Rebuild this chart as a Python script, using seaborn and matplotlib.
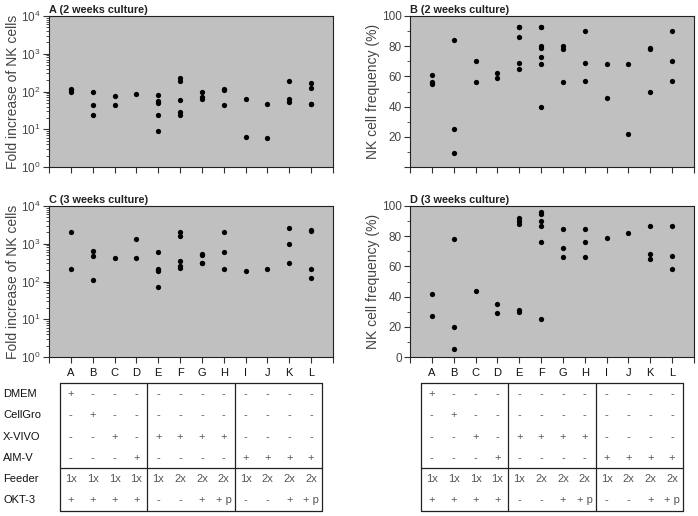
import numpy as np
import pandas as pd
import matplotlib
matplotlib.use('Agg')
import matplotlib.pyplot as plt
import seaborn as sns

sns.set_style('white')
plt.rcParams['font.family'] = ['Liberation Sans', 'DejaVu Sans']

# culture conditions A..L
groups = ['A', 'B', 'C', 'D', 'E', 'F', 'G', 'H', 'I', 'J', 'K', 'L']

# A: fold increase of NK cells, 2 weeks
fold_2wk = [[95, 110, 120], [100, 44, 24], [78, 45], [87], [82, 55, 50, 24, 9],
            [230, 190, 61, 28, 24], [100, 70, 65], [120, 107, 44], [62, 6.1],
            [47, 6], [190, 65, 53], [170, 122, 48, 47]]
# B: NK cell frequency (%), 2 weeks
freq_2wk = [[61, 56, 55], [84, 25, 9], [70, 56], [62, 59], [93, 93, 86, 69, 65],
            [93, 93, 80, 79, 73, 68, 40], [80, 78, 56], [90, 69, 57], [68, 46],
            [68, 22], [79, 78, 50], [90, 70, 57]]
# C: fold increase of NK cells, 3 weeks
fold_3wk = [[2000, 220], [650, 480, 110], [410], [1300, 430], [620, 220, 200, 185, 70],
            [2000, 1650, 350, 250, 230], [530, 510, 310, 300], [2000, 620, 220], [195],
            [215], [2600, 960, 300], [2250, 2150, 220, 125]]
# D: NK cell frequency (%), 3 weeks
freq_3wk = [[42, 27], [78, 20, 5], [44], [35, 29], [92, 90, 88, 31, 30],
            [96, 95, 90, 87, 76, 25], [85, 72, 66], [85, 76, 66], [79],
            [82], [87, 68, 65], [87, 67, 58]]

# table below the plots
row_names = ['DMEM', 'CellGro', 'X-VIVO', 'AIM-V', 'Feeder', 'OKT-3']
dmem = ['+', '-', '-', '-', '-', '-', '-', '-', '-', '-', '-', '-']
cellgro = ['-', '+', '-', '-', '-', '-', '-', '-', '-', '-', '-', '-']
xvivo = ['-', '-', '+', '-', '+', '+', '+', '+', '-', '-', '-', '-']
aimv = ['-', '-', '-', '+', '-', '-', '-', '-', '+', '+', '+', '+']
feeder = ['1x', '1x', '1x', '1x', '1x', '2x', '2x', '2x', '1x', '2x', '2x', '2x']
okt3 = ['+', '+', '+', '+', '-', '-', '+', '+ p', '-', '-', '+', '+ p']
table_rows = [dmem, cellgro, xvivo, aimv, feeder, okt3]

W, H = 698, 516
fig = plt.figure(figsize=(W / 100, H / 100), dpi=100)
txt_col = '#444444'


def to_long(values):
    g, v = [], []
    for name, vals in zip(groups, values):
        g += [name] * len(vals)
        v += vals
    return pd.DataFrame({'group': g, 'value': v})


def panel(left, top, values, title, ylabel, log, zero_label=True):
    ax = fig.add_axes([left / W, 1 - (top + 151) / H, 284 / W, 151 / H])
    ax.set_facecolor('#c0c0c0')
    sns.stripplot(data=to_long(values), x='group', y='value', order=groups,
                  jitter=False, color='black', size=3.8, ax=ax, zorder=3)
    if log:
        ax.set_yscale('log')
        ax.set_ylim(1, 1e4)
        ax.set_yticks([1, 10, 100, 1000, 10000])
        ax.set_yticklabels([r'$\mathdefault{10^{%d}}$' % k for k in range(5)])
    else:
        ax.set_ylim(0, 100)
        ax.set_yticks(np.arange(0, 101, 20))
        ax.set_yticks(np.arange(10, 100, 20), minor=True)
        labels = [str(t) for t in range(0, 101, 20)]
        if not zero_label:
            labels[0] = ''
        ax.set_yticklabels(labels)
    ax.set_xlim(-1, 12)
    ax.set_xticks(np.arange(-1, 13))
    ax.set_xticklabels([])
    ax.set_xlabel('')
    ax.set_ylabel('')
    ax.tick_params(which='major', direction='out', length=4, width=0.8,
                   color='#333333', labelsize=8.5, labelcolor=txt_col, pad=2,
                   left=True, bottom=True)
    ax.tick_params(which='minor', direction='out', length=2, width=0.6,
                   color='#333333', left=True)
    for s in ax.spines.values():
        s.set_color('#222222')
        s.set_linewidth(0.8)
        s.set_visible(True)
    ax.set_title(title, loc='left', fontsize=7.8, fontweight='bold', pad=2, color='#222222')
    lx = 13 if left < 300 else 373
    fig.text(lx / W, 1 - (top + 75.5) / H, ylabel, rotation=90, ha='center', va='center',
             fontsize=10, color=txt_col)
    return ax


panel(49, 16, fold_2wk, 'A (2 weeks culture)', 'Fold increase of NK cells', True)
panel(410, 16, freq_2wk, 'B (2 weeks culture)', 'NK cell frequency (%)', False, zero_label=False)
panel(49, 206, fold_3wk, 'C (3 weeks culture)', 'Fold increase of NK cells', True)
panel(410, 206, freq_3wk, 'D (3 weeks culture)', 'NK cell frequency (%)', False)


def table(left, with_names):
    tax = fig.add_axes([left / W, 0, 284 / W, 1])
    tax.set_xlim(-1, 12)
    tax.set_ylim(H, 0)
    tax.axis('off')
    x = np.arange(12)
    for i, g in enumerate(groups):
        tax.text(x[i], 373, g, ha='center', va='center', fontsize=8, color='#111111')
    row_y = [394, 415, 437, 458, 479, 500]
    for r, vals in enumerate(table_rows):
        for i, v in enumerate(vals):
            tax.text(x[i], row_y[r], v, ha='center', va='center', fontsize=8, color='#555555')
    lw = 0.9
    for yv in [383, 468, 511]:
        tax.plot([-0.5, 11.5], [yv, yv], color='#222222', lw=lw, clip_on=False)
    for xv in [-0.5, 3.5, 7.5, 11.5]:
        tax.plot([xv, xv], [383, 511], color='#222222', lw=lw, clip_on=False)
    if with_names:
        for r, name in enumerate(row_names):
            fig.text(3 / W, 1 - row_y[r] / H, name, ha='left', va='center',
                     fontsize=8, color='#111111')


table(49, True)
table(410, False)

fig.savefig('out.png', dpi=100)
